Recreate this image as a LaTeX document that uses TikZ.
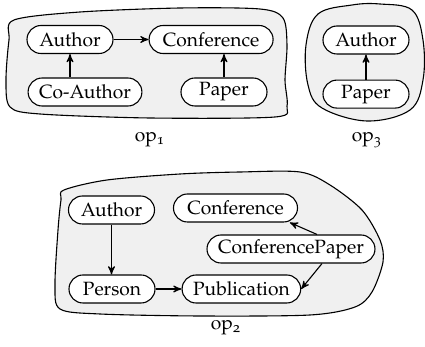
\documentclass[tikz,border=0pt]{standalone}
\usepackage[T1]{fontenc}
\usepackage[osf]{mathpazo}
\usetikzlibrary{shapes,arrows,backgrounds,positioning}
\tikzset{
  entity/.style = {draw=black, fill=white, rounded corners=7pt,
    minimum height=14pt, minimum width=43pt, inner xsep=5.5pt, inner ysep=0pt},% one class
  wide/.style = {entity, minimum width=62pt},% wider class box
  blob/.style = {draw=black, fill=black!6, line width=0.55pt},% one operation
  rel/.style = {->, >=stealth'}
}

\begin{document}
\begin{tikzpicture}[x=0.5pt,y=-0.5pt,line width=0.55pt,
    every node/.style={font=\fontsize{9.6}{11.5}\selectfont}]
        \useasboundingbox (0,0) rectangle (425,347);

        % op1
        \draw[blob] plot[smooth cycle, tension=0.5] coordinates {(14,20) (80,12) (180,8) (260,9) (283,18)
          (287,45) (285,80) (287,106) (275,117) (150,118) (40,114) (10,107) (6,80) (9,40)};
        \node [entity] (A1) at (70,39.5) {Author};
        \node [wide, right= 17.5pt of A1] (C1) {Conference};
        \node [entity] (CA1) at (85,92) {Co-Author};
        \node [entity] (P1) at (224,92) {Paper};
        \node (L1) at (150,140) {op\textsubscript{1}};

        \draw[rel] (A1) -- (C1);
        \draw[rel] (A1 |- CA1.north) -- (A1);
        \draw[rel] (P1) -- (P1 |- C1.south);

        % op3
        \draw[blob] plot[smooth cycle, tension=0.6] coordinates {(352,5) (318,14) (306,45) (308,85)
          (322,108) (367,121) (410,110) (423,80) (423,40) (412,10) (380,4)};
        \node [entity] (A3) at (366,40) {Author};
        \node [entity, below= 12.5pt of A3] (P3) {Paper};
        \node (L3) at (367,140) {op\textsubscript{3}};

        \draw[rel] (P3) -- (A3);

        % op2
        \draw[blob] plot[smooth cycle, tension=0.5] coordinates {(64,190) (107,180) (180,174) (240,172)
          (300,172) (330,185) (362,210) (380,240) (383,262) (372,292) (355,307) (310,315) (200,316)
          (100,314) (60,309) (55,285) (58,230) (61,200)};
        \node [entity] (A2) at (111.5,210) {Author};
        \node [wide] (Co2) at (235.5,208) {Conference};
        \node [entity] (CP2) at (291,249) {ConferencePaper};
        \node [entity] (Pe2) at (112,289) {Person};
        \node [entity, right= 13pt of Pe2] (Pu2) {Publication};
        \node (L2) at (226,328) {op\textsubscript{2}};

        \draw[rel] (A2) -- (A2 |- Pe2.north);
        \draw[rel] (Pe2) -- (Pu2);
        \draw[rel] ([xshift=13pt]CP2.north) -- (Co2.-15);
        \draw[rel] ([xshift=15.5pt]CP2.south) -- (Pu2.east);

\end{tikzpicture}
\end{document}
